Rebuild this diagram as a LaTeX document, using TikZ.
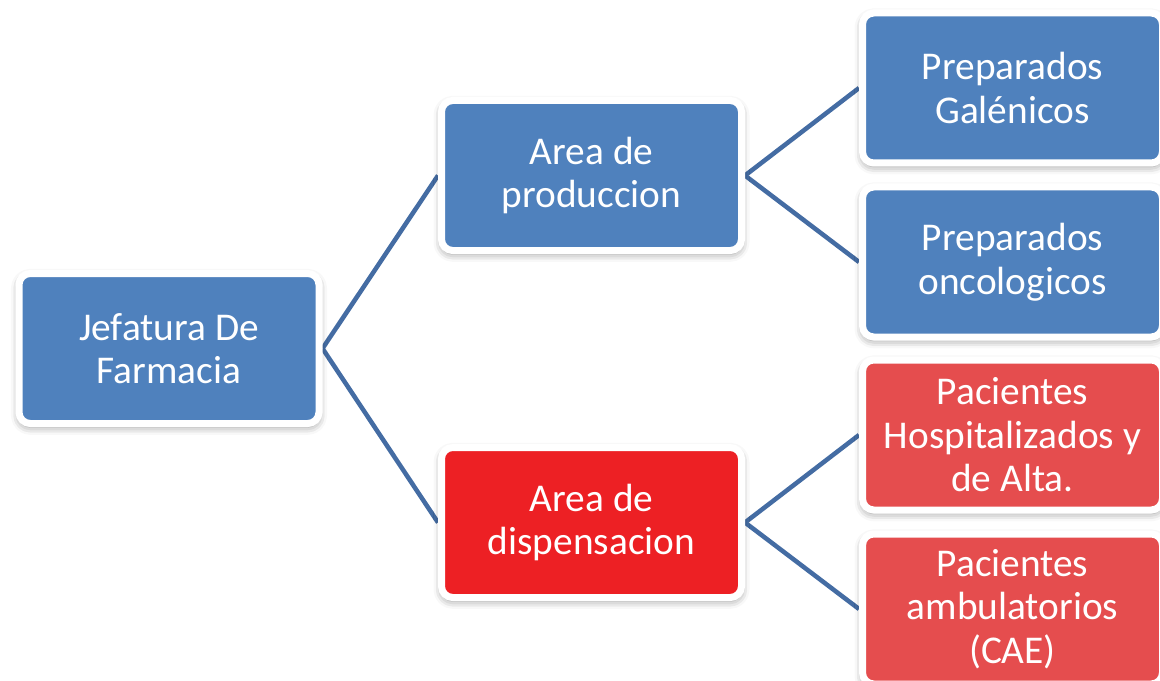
\documentclass[tikz,border=0pt]{standalone}
\usepackage{fontspec}
\setmainfont{Carlito}
\usetikzlibrary{shadows.blur,backgrounds}
\definecolor{boxblue}{RGB}{79,129,189}
\definecolor{boxred}{RGB}{237,32,36}
\definecolor{boxpink}{RGB}{229,77,78}
\definecolor{linkblue}{RGB}{68,108,163}
\begin{document}
\begin{tikzpicture}[x=0.75pt,y=-0.75pt]
      \useasboundingbox (0,0) rectangle (1160,681);
      \begin{scope}[every node/.style={rectangle,rounded corners=8.5pt,draw=white,line width=5.25pt,
          minimum width=225pt,minimum height=112.5pt,align=center,text=white,
          font=\fontsize{29.5}{32.6}\selectfont,
          blur shadow={shadow xshift=0pt,shadow yshift=-2.5pt,shadow blur radius=6pt,shadow opacity=45}}]
        \node[fill=boxblue] (jef) at (169, 348.5) {Jefatura De\\Farmacia};
        \node[fill=boxblue] (prod) at (591.5, 175.5) {Area de\\produccion};
        \node[fill=boxred] (disp) at (591.5, 522.5) {Area de\\dispensacion};
        \node[fill=boxblue] (gal) at (1012.5, 88) {Preparados\\Galénicos};
        \node[fill=boxblue] (onc) at (1012.5, 262) {Preparados\\oncologicos};
        \node[fill=boxpink] (hosp) at (1012.5, 435) {Pacientes\\Hospitalizados y\\de Alta.};
        \node[fill=boxpink] (amb) at (1012.5, 609) {Pacientes\\ambulatorios\\(CAE)};
      \end{scope}
      \begin{pgfonlayer}{background}
      \begin{scope}[every path/.style={line width=3.4pt,draw=linkblue}]
        \draw (jef.east) -- (prod.west);
        \draw (jef.east) -- (disp.west);
        \draw (prod.east) -- (gal.west);
        \draw (prod.east) -- (onc.west);
        \draw (disp.east) -- (hosp.west);
        \draw (disp.east) -- (amb.west);
      \end{scope}
      \end{pgfonlayer}
    \end{tikzpicture}
\end{document}
